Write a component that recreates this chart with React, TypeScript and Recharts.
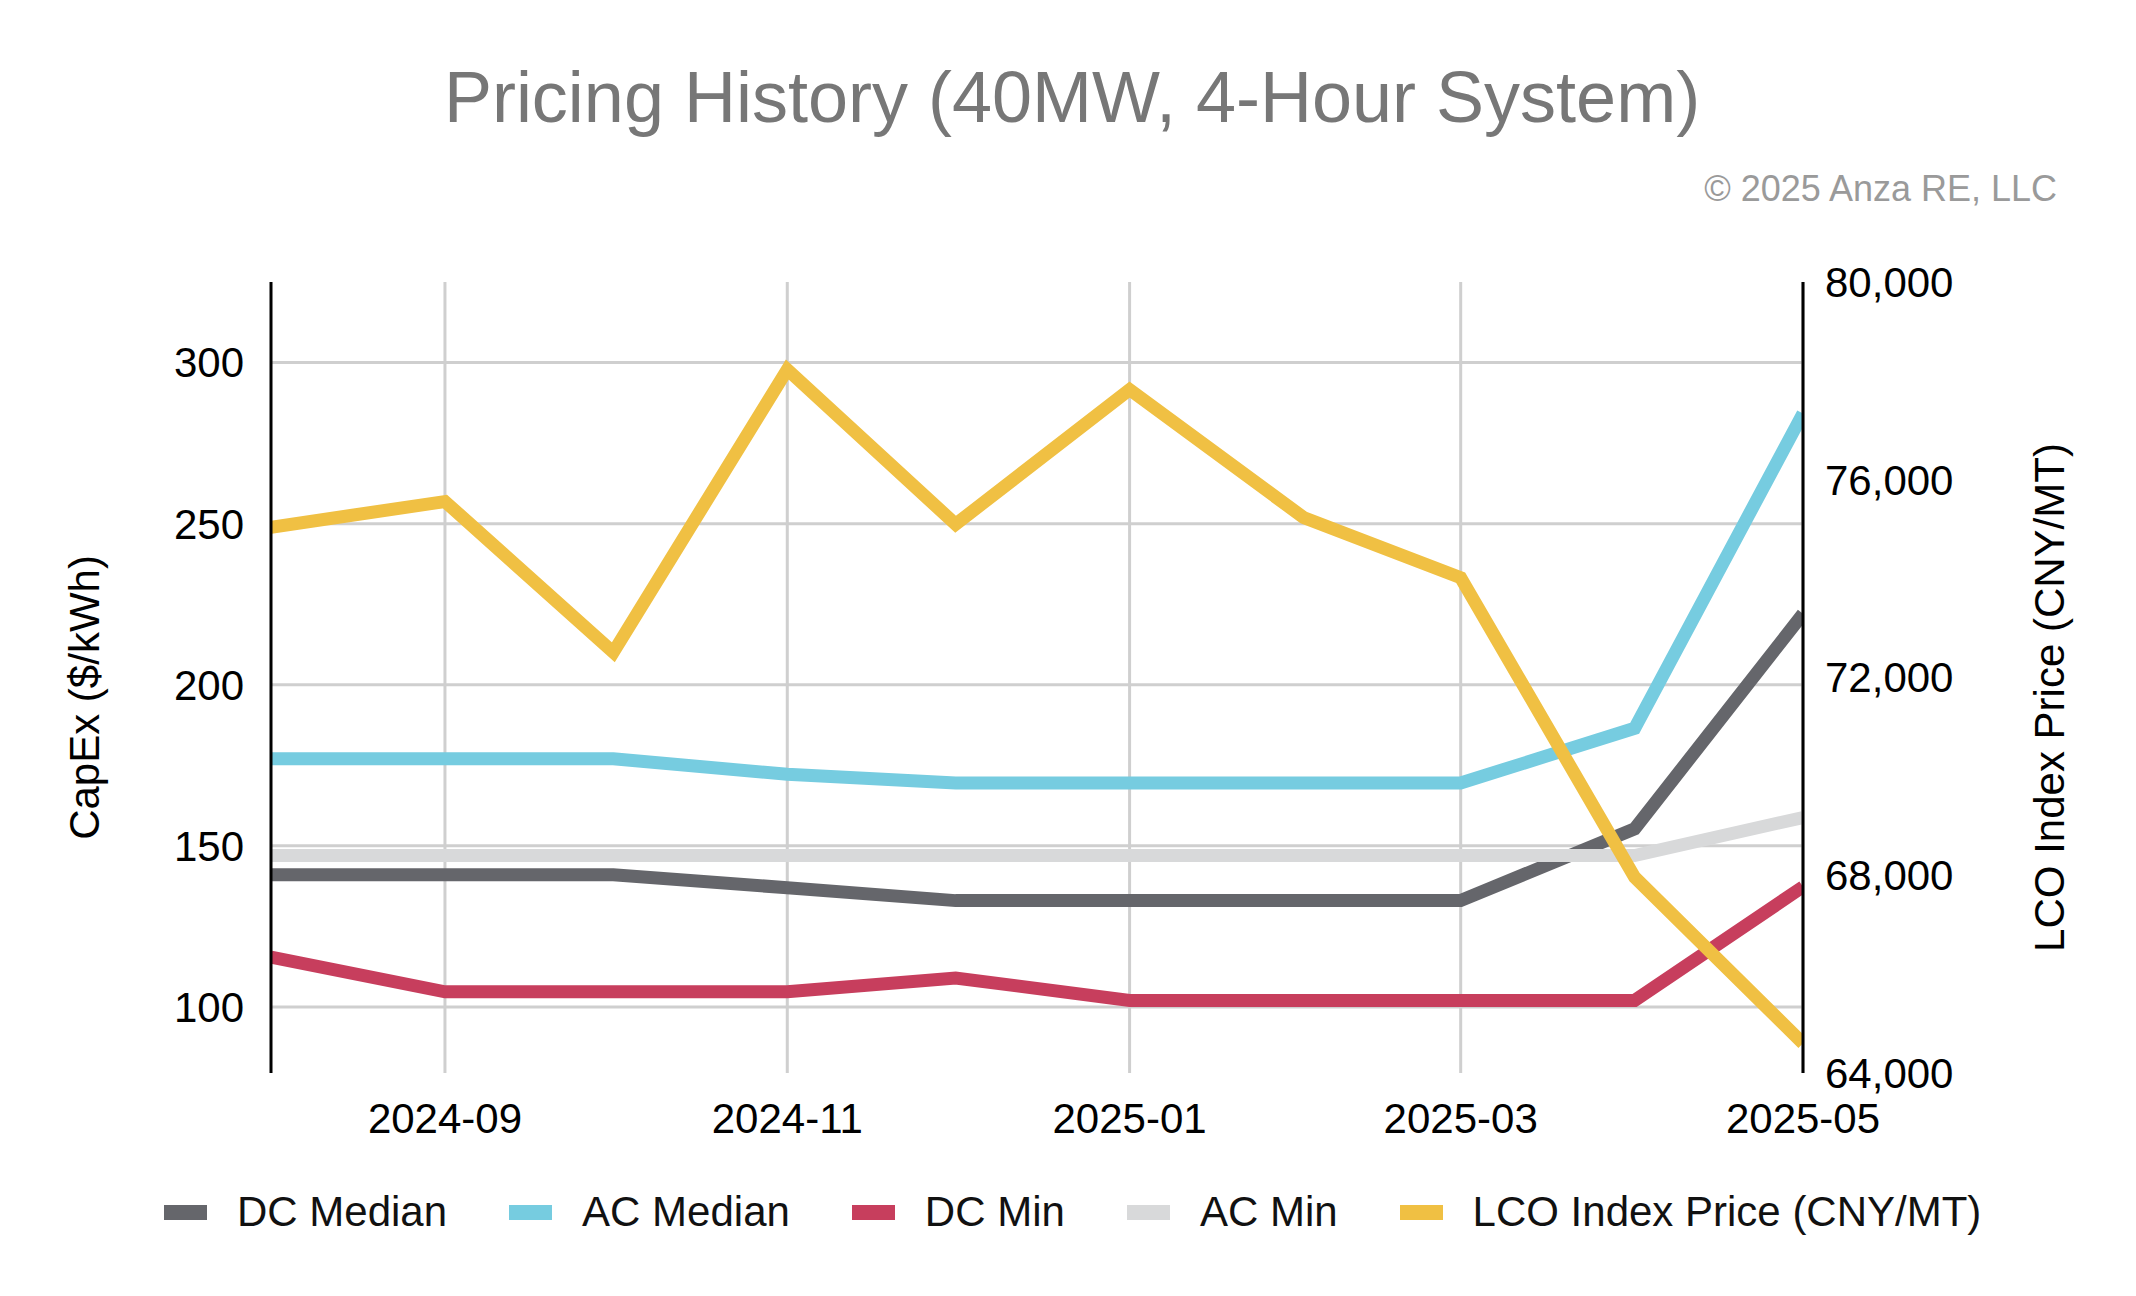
import { LineChart, Line, XAxis, YAxis, CartesianGrid } from 'recharts'

// monthly observations
const months = [
  '2024-08', '2024-09', '2024-10', '2024-11', '2024-12',
  '2025-01', '2025-02', '2025-03', '2025-04', '2025-05',
]
const dcMedian = [141, 141, 141, 137, 133, 133, 133, 133, 155.3, 222]
const acMedian = [177, 177, 177, 172.2, 169.5, 169.5, 169.5, 169.5, 186.5, 284.2]
const dcMin = [115.5, 104.7, 104.7, 104.7, 109, 102, 102, 102, 102, 137.3]
const acMin = [147, 147, 147, 147, 147, 147, 147, 147, 147, 158.8]
const lcoPrice = [75040, 75560, 72510, 78230, 75100, 77825, 75236, 74020, 67960, 64600]

const xTickMonths = ['2024-09', '2024-11', '2025-01', '2025-03', '2025-05']
const leftTicks = [100, 150, 200, 250, 300]
const rightTicks = [64000, 68000, 72000, 76000, 80000]

const toTime = (m: string) => {
  const [y, mo] = m.split('-').map(Number)
  return Date.UTC(y, mo - 1, 1)
}

const fmtMonth = (v: number) => {
  const d = new Date(v)
  return `${d.getUTCFullYear()}-${String(d.getUTCMonth() + 1).padStart(2, '0')}`
}

const xTicks = xTickMonths.map(toTime)

const data = months.map((m, i) => ({
  t: toTime(m),
  dcMedian: dcMedian[i],
  acMedian: acMedian[i],
  dcMin: dcMin[i],
  acMin: acMin[i],
  lco: lcoPrice[i],
}))

const series = [
  { key: 'dcMedian', name: 'DC Median', color: '#65666b', axis: 'left' },
  { key: 'acMedian', name: 'AC Median', color: '#76cce0', axis: 'left' },
  { key: 'dcMin', name: 'DC Min', color: '#c73e5d', axis: 'left' },
  { key: 'acMin', name: 'AC Min', color: '#d8d9da', axis: 'left' },
  { key: 'lco', name: 'LCO Index Price (CNY/MT)', color: '#f0c043', axis: 'right' },
]

const FONT = '"Liberation Sans", Arial, Helvetica, sans-serif'
const tickStyle = { fill: '#000', fontSize: 42, fontFamily: FONT }

export default function App() {
  return (
    <div
      style={{
        position: 'absolute',
        left: 0,
        top: 0,
        width: 2136,
        height: 1296,
        background: '#fff',
        fontFamily: FONT,
      }}
    >
      <div
        style={{
          position: 'absolute',
          left: 4,
          top: 61,
          width: 2136,
          textAlign: 'center',
          fontSize: 72,
          lineHeight: 1,
          color: '#777',
        }}
      >
        Pricing History (40MW, 4-Hour System)
      </div>
      <div
        style={{
          position: 'absolute',
          right: 79,
          top: 171,
          fontSize: 36,
          lineHeight: 1,
          color: '#9a9a9a',
        }}
      >
        © 2025 Anza RE, LLC
      </div>

      <LineChart
        width={2136}
        height={1296}
        data={data}
        margin={{ top: 282, right: 0, bottom: 163, left: 0 }}
      >
        {/* syncWithTicks keeps the grid off the plot edges */}
        <CartesianGrid yAxisId="left" stroke="#cfcfcf" strokeWidth={3} syncWithTicks />
        <XAxis
          dataKey="t"
          type="number"
          domain={[toTime(months[0]), toTime(months[months.length - 1])]}
          allowDataOverflow
          ticks={xTicks}
          tickFormatter={fmtMonth}
          axisLine={false}
          tickLine={false}
          tickSize={6}
          tickMargin={24}
          height={60}
          tick={tickStyle}
          interval={0}
        />
        <YAxis
          yAxisId="left"
          width={271}
          domain={[79.5, 325]}
          ticks={leftTicks}
          interval={0}
          axisLine={{ stroke: '#000', strokeWidth: 3 }}
          tickLine={false}
          tickSize={6}
          tickMargin={21}
          tick={tickStyle}
          label={{
            value: 'CapEx ($/kWh)',
            angle: -90,
            position: 'center',
            dx: -51,
            dy: 20,
            style: { fill: '#000', fontSize: 42, fontFamily: FONT },
          }}
        />
        <YAxis
          yAxisId="right"
          orientation="right"
          width={333}
          domain={[64000, 80000]}
          ticks={rightTicks}
          interval={0}
          tickFormatter={(v: number) => v.toLocaleString('en-US')}
          axisLine={{ stroke: '#000', strokeWidth: 3 }}
          tickLine={false}
          tickSize={6}
          tickMargin={16}
          tick={tickStyle}
          label={{
            value: 'LCO Index Price (CNY/MT)',
            angle: -90,
            position: 'center',
            dx: 80,
            dy: 20,
            style: { fill: '#000', fontSize: 42, fontFamily: FONT },
          }}
        />
        {series.map((s) => (
          <Line
            key={s.key}
            yAxisId={s.axis}
            type="linear"
            dataKey={s.key}
            name={s.name}
            stroke={s.color}
            strokeWidth={13}
            dot={false}
            activeDot={false}
            isAnimationActive={false}
          />
        ))}
      </LineChart>

      <div
        style={{
          position: 'absolute',
          left: 164,
          top: 1191,
          height: 42,
          display: 'flex',
          alignItems: 'center',
          fontSize: 42,
          lineHeight: 1,
          color: '#111',
          whiteSpace: 'nowrap',
        }}
      >
        {series.map((s) => (
          <div key={s.key} style={{ display: 'flex', alignItems: 'center', marginRight: 62 }}>
            <span
              style={{ display: 'inline-block', width: 43, height: 15, background: s.color, marginRight: 30 }}
            />
            <span>{s.name}</span>
          </div>
        ))}
      </div>
    </div>
  )
}
